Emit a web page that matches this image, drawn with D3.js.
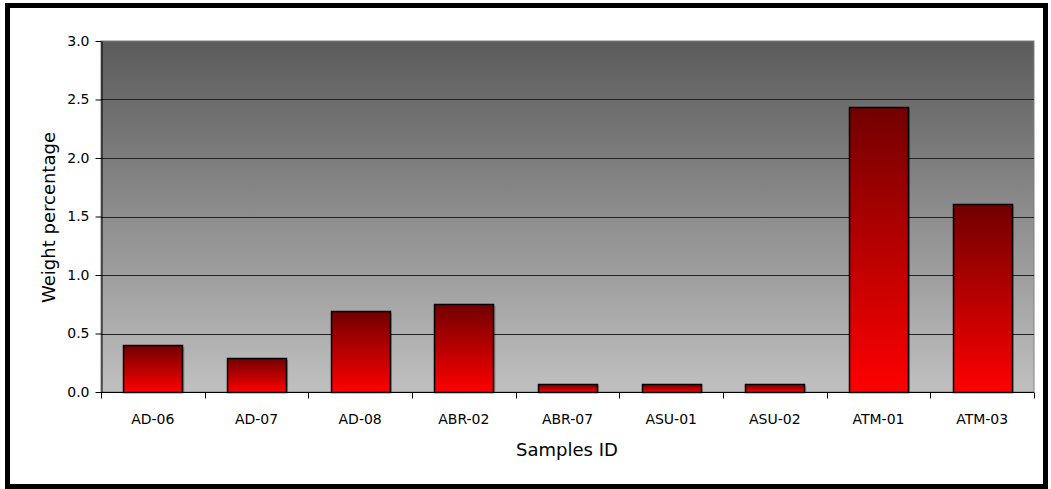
<!DOCTYPE html>
<html><head><meta charset="utf-8">
<script src="https://cdn.jsdelivr.net/npm/d3@7"></script>
<style>body{margin:0;background:#fff;} svg{display:block;} text{font-family:"DejaVu Sans",sans-serif;fill:#000;}</style>
</head><body>
<svg id="c" width="1051" height="489"></svg>
<script>
const categories = ["AD-06","AD-07","AD-08","ABR-02","ABR-07","ASU-01","ASU-02","ATM-01","ATM-03"];
const values = [0.40, 0.29, 0.69, 0.75, 0.07, 0.065, 0.065, 2.44, 1.61];
const yTicks = [0, 0.5, 1.0, 1.5, 2.0, 2.5, 3.0];
const xTitle = "Samples ID";
const yTitle = "Weight percentage";

const svg = d3.select("#c");
const m = {l:101, t:41, r:1034, b:392};
const defs = svg.append("defs");
const bg = defs.append("linearGradient").attr("id","bg").attr("x1",0).attr("y1",0).attr("x2",0).attr("y2",1);
bg.append("stop").attr("offset","0%").attr("stop-color","#5b5b5b");
bg.append("stop").attr("offset","100%").attr("stop-color","#c0c0c0");
const bar = defs.append("linearGradient").attr("id","bar").attr("x1",0).attr("y1",0).attr("x2",0).attr("y2",1);
bar.append("stop").attr("offset","0%").attr("stop-color","#720000");
bar.append("stop").attr("offset","100%").attr("stop-color","#ff0000");

// outer frame
svg.append("rect").attr("x",7.5).attr("y",5.5).attr("width",1038).attr("height",481)
  .attr("fill","#fff").attr("stroke","#000").attr("stroke-width",5);

const x = d3.scaleBand().domain(categories).range([m.l, m.r]).paddingInner(0.43).paddingOuter(0.215);
const y = d3.scaleLinear().domain([0,3]).range([m.b, m.t]);

svg.append("rect").attr("x",m.l).attr("y",m.t).attr("width",m.r-m.l).attr("height",m.b-m.t)
  .attr("fill","url(#bg)").attr("stroke","#808080").attr("stroke-width",1);

// gridlines
svg.append("g").selectAll("line").data(yTicks.filter(d=>d>0 && d<3)).join("line")
  .attr("x1",m.l).attr("x2",m.r).attr("y1",d=>Math.round(y(d))+0.5).attr("y2",d=>Math.round(y(d))+0.5)
  .attr("stroke","#222").attr("stroke-width",1);

// bars with shadow
svg.append("g").selectAll("rect").data(values).join("rect")
  .attr("x",(d,i)=>x(categories[i])+2).attr("y",d=>y(d)+2)
  .attr("width",x.bandwidth()).attr("height",d=>y(0)-y(d)-2)
  .attr("fill","rgba(0,0,0,0.25)");
svg.append("g").selectAll("rect").data(values).join("rect")
  .attr("x",(d,i)=>Math.round(x(categories[i]))+0.5).attr("y",d=>Math.round(y(d))+0.5)
  .attr("width",Math.round(x.bandwidth())).attr("height",d=>Math.round(y(0))-Math.round(y(d)))
  .attr("fill","url(#bar)").attr("stroke","#000").attr("stroke-width",1.5);

// y axis
const ya = svg.append("g").attr("transform",`translate(${m.l+0.5},0)`)
  .call(d3.axisLeft(y).tickValues(yTicks).tickFormat(d3.format(".1f")).tickSize(6).tickSizeOuter(0));
ya.select(".domain").attr("stroke","#000");
ya.selectAll(".tick line").attr("stroke","#000");
ya.selectAll("text").attr("font-size",14).attr("font-family","DejaVu Sans").attr("x",-12).attr("fill","#000");

// x axis
const bounds = d3.range(categories.length+1).map(i=>m.l + i*(m.r-m.l)/categories.length);
const xa = svg.append("g").attr("transform",`translate(0,${m.b+0.5})`);
xa.append("line").attr("x1",m.l).attr("x2",m.r).attr("stroke","#000");
xa.selectAll(".tk").data(bounds).join("line").attr("class","tk")
  .attr("x1",d=>Math.round(d)+0.5).attr("x2",d=>Math.round(d)+0.5).attr("y1",0).attr("y2",6).attr("stroke","#000");
xa.selectAll("text").data(categories).join("text")
  .attr("x",d=>x(d)+x.bandwidth()/2).attr("y",31).attr("text-anchor","middle")
  .attr("font-size",14).text(d=>d);

svg.append("text").attr("x",567).attr("y",456).attr("text-anchor","middle").attr("font-size",18).text(xTitle);
svg.append("text").attr("transform","translate(55,217.5) rotate(-90)").attr("text-anchor","middle").attr("font-size",18).text(yTitle);
</script>
</body></html>
